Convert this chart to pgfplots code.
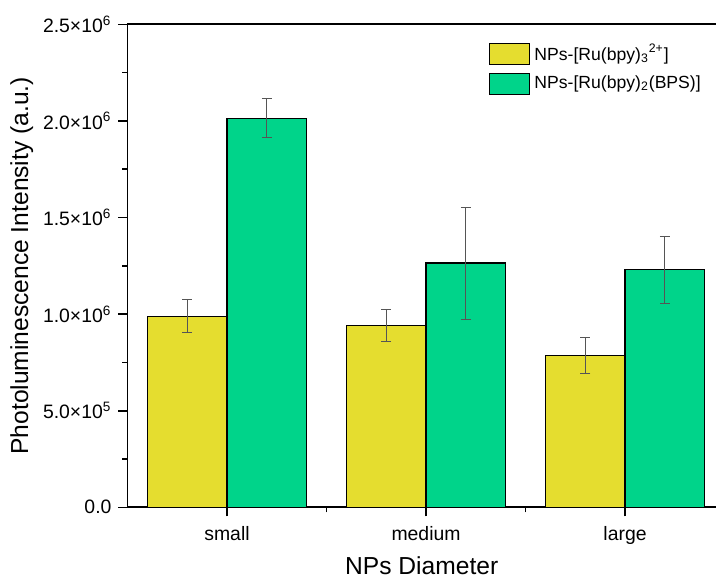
\documentclass[border=0pt]{standalone}
\usepackage{pgfplots}
\pgfplotsset{compat=1.18}
\usepackage{fontspec}
\setmainfont{Liberation Sans}

\definecolor{barYellow}{RGB}{229,221,47}
\definecolor{barGreen}{RGB}{0,212,138}
\definecolor{errGray}{RGB}{85,85,85}

\begin{document}
\begin{tikzpicture}
% fixed page frame around the plot area
\useasboundingbox (-63.75pt,-35.35pt) rectangle (294.25pt,253.65pt);
\begin{axis}[
  at={(0pt,0pt)}, anchor=south west,
  scale only axis,
  width=294.25pt, height=241.5pt,
  xmin=-0.5, xmax=2.457,
  ymin=0, ymax=2.5e6,
  axis x line*=box, axis y line*=left,
  axis line style={line width=0.9pt},
  xtick={0,1,2}, xticklabels={small,medium,large},
  minor xtick={0.5,1.5},
  xtick pos=bottom,
  ytick={0,5e5,1e6,1.5e6,2e6,2.5e6},
  yticklabels={0.0, 5.0×10\textsuperscript{5}, 1.0×10\textsuperscript{6}, 1.5×10\textsuperscript{6}, 2.0×10\textsuperscript{6}, 2.5×10\textsuperscript{6}},
  minor ytick={2.5e5,7.5e5,1.25e6,1.75e6,2.25e6},
  scaled y ticks=false,
  tick align=outside,
  major tick length=4.5pt, minor tick length=2.5pt,
  every tick/.style={black, line width=0.8pt},
  tick label style={font=\fontsize{9.7}{11}\selectfont},
  xticklabel style={yshift=-1.5pt},
  /pgf/number format/assume math mode=true,
  xlabel={NPs Diameter},
  ylabel={Photoluminescence Intensity (a.u.)},
  label style={font=\fontsize{12.3}{14}\selectfont},
  xlabel style={yshift=1pt},
  ylabel style={yshift=-2pt},
  ybar=0pt, bar width=0.4,
  legend style={draw=none, fill=none, inner sep=0pt,
    at={(0.614,0.968)}, anchor=north west,
    font=\fontsize{8.8}{10}\selectfont, row sep=2.2pt,
    legend cell align=left},
  legend image code/.code={\draw[#1, draw=black, line width=0.6pt] (0pt,-5.25pt) rectangle (20pt,5.25pt);},
]
\addplot[fill=barYellow, draw=black, line width=0.6pt,
  error bars/.cd, y dir=both, y explicit,
  error bar style={errGray, line width=0.5pt},
  error mark options={rotate=90, errGray, mark size=2.5pt, line width=0.5pt}]
  coordinates {
    (0,0.989e6) +- (0,0.085e6)
    (1,0.941e6) +- (0,0.082e6)
    (2,0.787e6) +- (0,0.092e6)
  };
\addlegendentry{NPs-[Ru(bpy)\textsubscript{3}\textsuperscript{2+}]}
\addplot[fill=barGreen, draw=black, line width=0.6pt,
  error bars/.cd, y dir=both, y explicit,
  error bar style={errGray, line width=0.5pt},
  error mark options={rotate=90, errGray, mark size=2.5pt, line width=0.5pt}]
  coordinates {
    (0,2.013e6) +- (0,0.101e6)
    (1,1.264e6) +- (0,0.290e6)
    (2,1.229e6) +- (0,0.174e6)
  };
\addlegendentry{NPs-[Ru(bpy)\textsubscript{2}(BPS)]}
\end{axis}
\end{tikzpicture}
\end{document}
